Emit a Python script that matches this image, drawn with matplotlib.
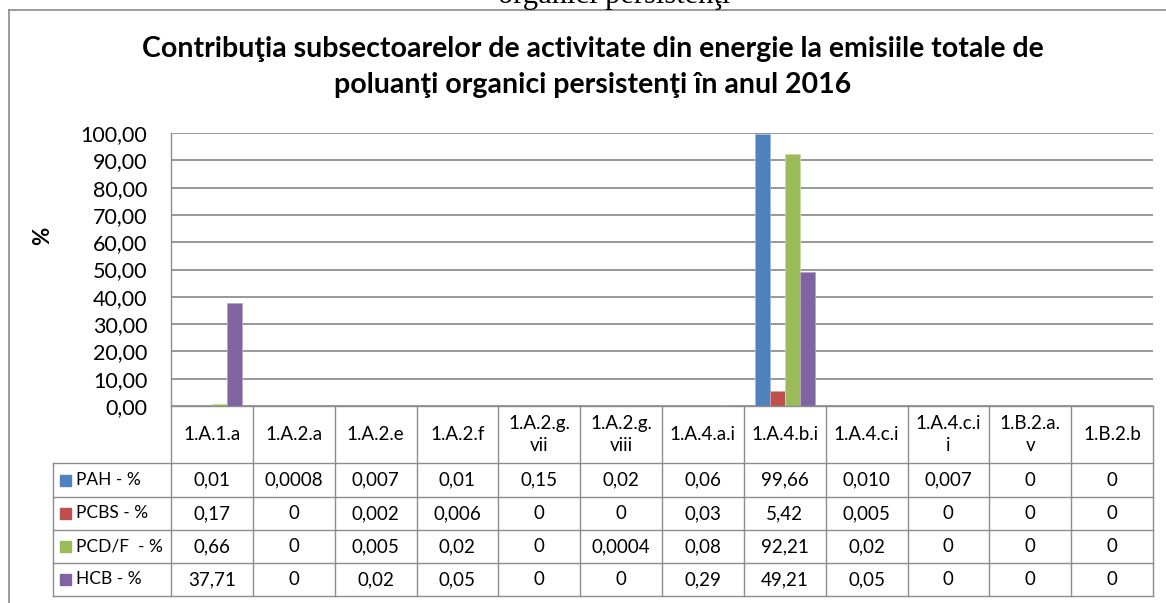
import matplotlib
matplotlib.use('Agg')
import matplotlib.pyplot as plt
from matplotlib.lines import Line2D
from matplotlib.patches import Rectangle
import numpy as np

categories = ['1.A.1.a', '1.A.2.a', '1.A.2.e', '1.A.2.f', '1.A.2.g.\nvii', '1.A.2.g.\nviii',
              '1.A.4.a.i', '1.A.4.b.i', '1.A.4.c.i', '1.A.4.c.i\ni', '1.B.2.a.\nv', '1.B.2.b']
series_names = ['PAH - %', 'PCBS - %', 'PCD/F  - %', 'HCB - %']
pah = ['0,01', '0,0008', '0,007', '0,01', '0,15', '0,02', '0,06', '99,66', '0,010', '0,007', '0', '0']
pcbs = ['0,17', '0', '0,002', '0,006', '0', '0', '0,03', '5,42', '0,005', '0', '0', '0']
pcdf = ['0,66', '0', '0,005', '0,02', '0', '0,0004', '0,08', '92,21', '0,02', '0', '0', '0']
hcb = ['37,71', '0', '0,02', '0,05', '0', '0', '0,29', '49,21', '0,05', '0', '0', '0']
yticks = [0, 10, 20, 30, 40, 50, 60, 70, 80, 90, 100]

colors = ['#4F81BD', '#C0504D', '#9BBB59', '#8064A2']
edges = ['#9DB7DA', '#DCA09E', '#C7DBA5', '#B4A3C8']
rows = [pah, pcbs, pcdf, hcb]

W, H = 1166, 603
plt.rcParams['font.family'] = ['Lato', 'DejaVu Sans']
fig = plt.figure(figsize=(W / 100, H / 100), dpi=100)


def fx(x):
    return x / W


def fy(y):
    return 1 - y / H


grid_c = '#868686'
line_c = '#8C8C8C'

# chart frame (cut off on the right and bottom)
fig.add_artist(Line2D([fx(9), fx(9)], [fy(10), fy(H + 5)], color='#8A8A8A', lw=1.2))
fig.add_artist(Line2D([fx(9), fx(W + 5)], [fy(10), fy(10)], color='#8A8A8A', lw=1.2))

# page text cut at top
fig.text(fx(614), fy(3), 'organici persistenţi', family='Liberation Serif', fontsize=22,
         ha='center', va='baseline', color='black')

fig.text(fx(593), fy(57), 'Contribuţia subsectoarelor de activitate din energie la emisiile totale de',
         fontsize=20.5, fontweight='bold', ha='center', va='baseline')
fig.text(fx(593), fy(93), 'poluanţi organici persistenţi în anul 2016',
         fontsize=20.5, fontweight='bold', ha='center', va='baseline')

fig.text(fx(43), fy(236), '%', fontsize=16, fontweight='bold', rotation=90, ha='center', va='center')

# plot area
left, right, top, bottom = 171, 1153, 133, 406
ax = fig.add_axes([fx(left), fy(bottom), (right - left) / W, (bottom - top) / H])
n = len(categories)
x = np.arange(n)
bw = 15 / ((right - left) / n)
for i, (vals, c, ec) in enumerate(zip(rows, colors, edges)):
    v = [float(s.replace(',', '.')) for s in vals]
    ax.bar(x + (i - 1.5) * bw, v, bw, color=c, edgecolor=ec, linewidth=0.6, zorder=3)

ax.set_xlim(-0.5, n - 0.5)
ax.set_ylim(0, 100)
ax.set_yticks(yticks)
ax.set_yticklabels([f'{t:.2f}'.replace('.', ',') for t in yticks], fontsize=15.5)
ax.tick_params(axis='y', length=0, pad=17)
ax.set_xticks([])
for t in yticks:
    ax.axhline(t, color=grid_c, lw=1.2, zorder=1)
for s in ['top', 'right', 'bottom']:
    ax.spines[s].set_visible(False)
ax.spines['left'].set_color(line_c)
ax.spines['left'].set_linewidth(1.0)

# data table below
tab_left, tab_bottom = 53, 596
row_y = [406, 463, 497, 530, 563, 596]
colw = (right - left) / n
tab = fig.add_axes([fx(tab_left), fy(tab_bottom), (right - tab_left) / W, (tab_bottom - 406) / H])
tab.set_xlim(-0.5 - (left - tab_left) / colw, n - 0.5)
tab.set_ylim(tab_bottom, 406)
tab.axis('off')
lx = -0.5 - (left - tab_left) / colw

for k in range(n + 1):
    tab.plot([k - 0.5, k - 0.5], [406, tab_bottom], color=line_c, lw=1.0, clip_on=False)
tab.plot([lx, lx], [row_y[1], tab_bottom], color=line_c, lw=1.0, clip_on=False)
for j, yy in enumerate(row_y):
    x0 = -0.5 if j == 0 else lx
    tab.plot([x0, n - 0.5], [yy, yy], color=line_c, lw=1.0, clip_on=False)

hy = (row_y[0] + row_y[1]) / 2
for k, lab in enumerate(categories):
    tab.text(k, hy, lab, ha='center', va='center', fontsize=13.5, linespacing=1.3)

for j, (name, vals, c) in enumerate(zip(series_names, rows, colors)):
    cy = (row_y[j + 1] + row_y[j + 2]) / 2
    sq = 11 / colw
    tab.add_patch(Rectangle((lx + 7 / colw, cy + 5.5), sq, -11, color=c, clip_on=False))
    tab.text(lx + 23 / colw, cy, name, ha='left', va='center', fontsize=12.5)
    for k, s in enumerate(vals):
        tab.text(k, cy, s, ha='center', va='center', fontsize=13.5)

fig.savefig('out.png', dpi=100)
